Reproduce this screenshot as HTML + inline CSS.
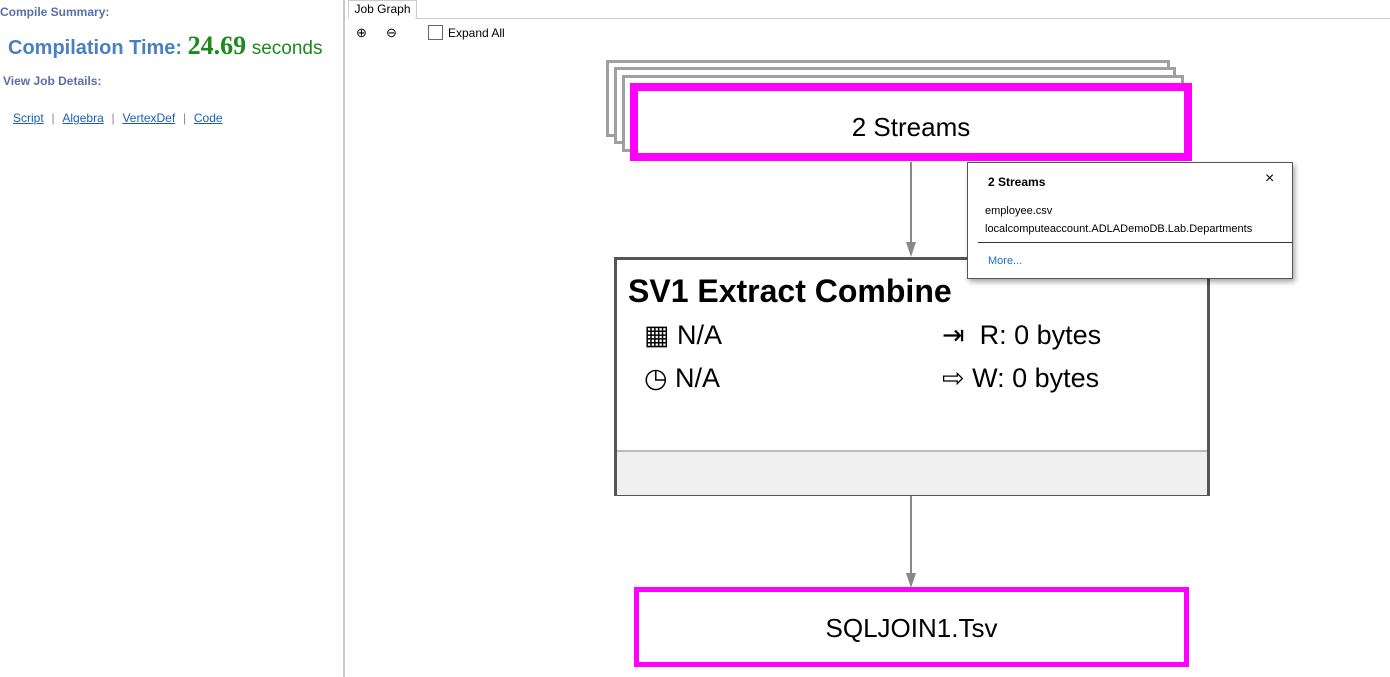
<!DOCTYPE html>
<html><head><style>
body{margin:0;width:1390px;height:677px;background:#fff;position:relative;overflow:hidden;font-family:"Liberation Sans",sans-serif}
.a{position:absolute;white-space:nowrap}
.lnk{color:#1a5fb4;text-decoration:underline;font-size:12px}
.sep{color:#888;font-size:12px}
.box{position:absolute;box-sizing:border-box;background:#fff}
</style></head><body>
<div class="a" style="left:0;top:5px;font-size:12px;font-weight:bold;color:#5a6fa8">Compile Summary:</div>
<div class="a" style="left:8px;top:31px;font-size:20px;color:#4a7fc1;font-weight:bold">Compilation Time: <span style="font-family:'Liberation Serif',serif;font-weight:bold;font-size:26px;color:#1a8a1a">24.69</span> <span style="color:#1a8a1a;font-size:19px;font-weight:normal">seconds</span></div>
<div class="a" style="left:3px;top:74px;font-size:12px;font-weight:bold;color:#5a6fa8">View Job Details:</div>
<div class="a" style="left:13px;top:109px"><span class="lnk">Script</span> <span class="sep">&nbsp;|&nbsp;</span> <span class="lnk">Algebra</span> <span class="sep">&nbsp;|&nbsp;</span> <span class="lnk">VertexDef</span> <span class="sep">&nbsp;|&nbsp;</span> <span class="lnk">Code</span></div>
<div class="a" style="left:343px;top:0;width:2px;height:677px;background:#c8c8c8"></div>
<div class="a" style="left:348px;top:0;width:67px;height:18px;border:1px solid #ccc;border-bottom:none;background:#fff;font-size:12px;line-height:16px;text-align:center">Job Graph</div>
<div class="a" style="left:415px;top:18px;width:975px;height:1px;background:#ccc"></div>
<div class="a" style="left:356px;top:25px;font-size:13px">⊕</div>
<div class="a" style="left:386px;top:25px;font-size:13px">⊖</div>
<div class="a" style="left:428px;top:25px;width:13px;height:13px;border:1px solid #666"></div>
<div class="a" style="left:448px;top:26px;font-size:12px">Expand All</div>

<div class="box" style="left:606px;top:60px;width:564px;height:77px;border:3px solid #a0a0a0"></div>
<div class="box" style="left:614px;top:67px;width:562px;height:77px;border:3px solid #a0a0a0"></div>
<div class="box" style="left:622px;top:75px;width:562px;height:77px;border:3px solid #a0a0a0"></div>
<div class="box" style="left:630px;top:83px;width:562px;height:78px;border:8px solid #ff00ff;font-size:26px;text-align:center;line-height:72px">2 Streams</div>

<svg class="a" style="left:0;top:0" width="1390" height="677">
<line x1="911" y1="162" x2="911" y2="250" stroke="#888" stroke-width="2"/>
<polygon points="906,242 916,242 911,257" fill="#888"/>
<line x1="911" y1="496" x2="911" y2="580" stroke="#888" stroke-width="2"/>
<polygon points="906,573 916,573 911,588" fill="#888"/>
</svg>

<div class="box" style="left:614px;top:257px;width:596px;height:239px;border:3px solid #555">
<div class="a" style="left:11px;top:13px;font-size:32px;font-weight:bold">SV1 Extract Combine</div>
<div class="a" style="left:27px;top:60px;font-size:27px">▦ N/A</div>
<div class="a" style="left:27px;top:103px;font-size:27px">◷ N/A</div>
<div class="a" style="left:325px;top:60px;font-size:27px">⇥&nbsp; R: 0 bytes</div>
<div class="a" style="left:325px;top:103px;font-size:27px">⇨ W: 0 bytes</div>
<div class="a" style="left:0;top:190px;width:590px;height:43px;background:#f0f0f0;border-top:2px solid #bbb"></div>
</div>

<div class="box" style="left:634px;top:587px;width:555px;height:80px;border:5px solid #ff00ff;font-size:26px;text-align:center;line-height:72px">SQLJOIN1.Tsv</div>

<div class="box" style="left:967px;top:162px;width:326px;height:117px;border:1px solid #555;box-shadow:2px 3px 5px rgba(0,0,0,.35)">
<div class="a" style="left:20px;top:12px;font-size:12px;font-weight:bold">2 Streams</div>
<div class="a" style="left:297px;top:7px;font-size:16px">×</div>
<div class="a" style="left:17px;top:42px;font-size:11px">employee.csv</div>
<div class="a" style="left:17px;top:60px;font-size:11px">localcomputeaccount.ADLADemoDB.Lab.Departments</div>
<div class="a" style="left:10px;top:79px;width:314px;height:1px;background:#333"></div>
<div class="a" style="left:20px;top:92px;font-size:11px;color:#1a6fd0">More...</div>
</div>
</body></html>
